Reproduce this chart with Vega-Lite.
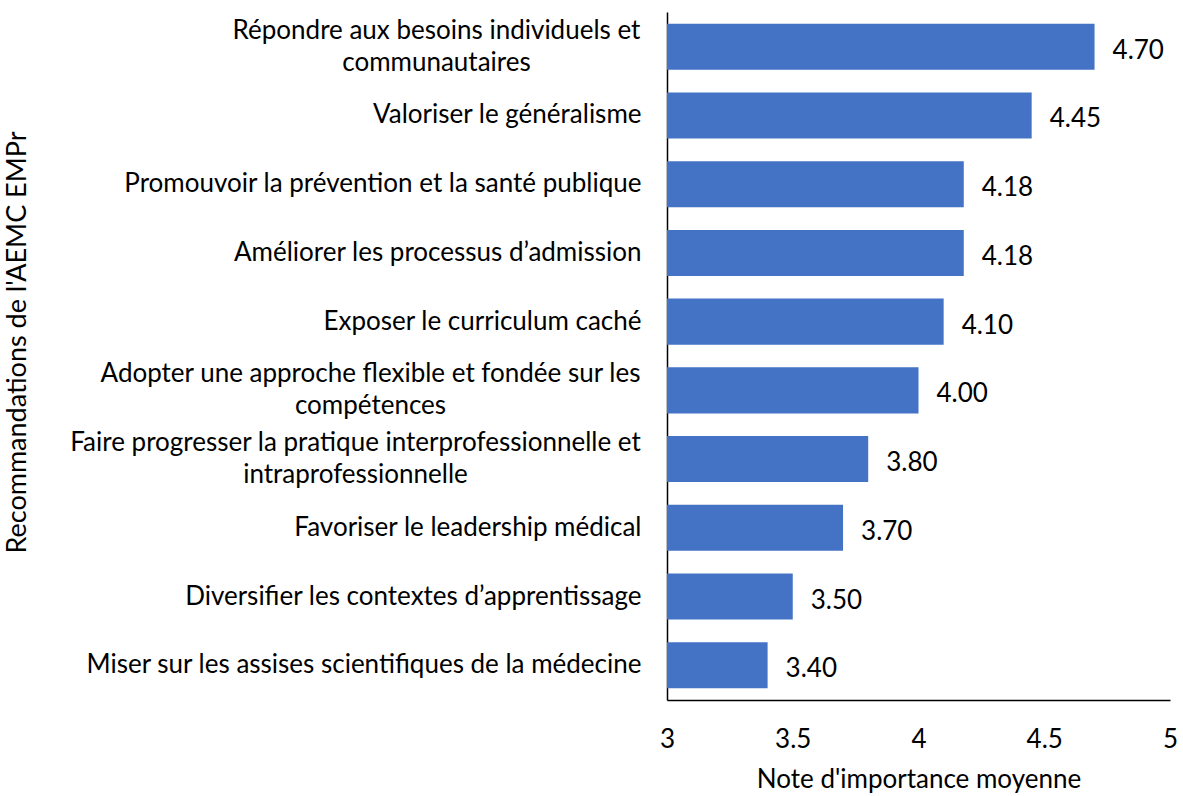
{
  "$schema": "https://vega.github.io/schema/vega-lite/v6.json",
  "width": 503,
  "height": 688,
  "autosize": {"type": "none"},
  "padding": {"left": 667, "top": 12, "right": 13, "bottom": 96},
  "background": "white",
  "config": {
    "view": {"stroke": null},
    "font": "Lato",
    "text": {"font": "Lato"}
  },
  "data": {
    "values": [
      {"rec": "Répondre aux besoins individuels et|communautaires", "note": 4.70, "ordre": 1},
      {"rec": "Valoriser le généralisme", "note": 4.45, "ordre": 2},
      {"rec": "Promouvoir la prévention et la santé publique", "note": 4.18, "ordre": 3},
      {"rec": "Améliorer les processus d’admission", "note": 4.18, "ordre": 4},
      {"rec": "Exposer le curriculum caché", "note": 4.10, "ordre": 5},
      {"rec": "Adopter une approche flexible et fondée sur les|compétences", "note": 4.00, "ordre": 6},
      {"rec": "Faire progresser la pratique interprofessionnelle et|intraprofessionnelle", "note": 3.80, "ordre": 7},
      {"rec": "Favoriser le leadership médical", "note": 3.70, "ordre": 8},
      {"rec": "Diversifier les contextes d’apprentissage", "note": 3.50, "ordre": 9},
      {"rec": "Miser sur les assises scientifiques de la médecine", "note": 3.40, "ordre": 10}
    ]
  },
  "encoding": {
    "y": {
      "field": "rec",
      "type": "nominal",
      "sort": {"field": "ordre", "op": "min", "order": "ascending"},
      "scale": {"paddingInner": 0.33, "paddingOuter": 0.17},
      "axis": {
        "title": "Recommandations de l'AEMC EMPr",
        "titleFont": "Lato",
        "titleFontSize": 27,
        "titleFontWeight": "normal",
        "titleColor": "#000000",
        "titleX": -636,
        "titleY": 330,
        "labelExpr": "split(datum.label, '|')",
        "labelFont": "Lato",
        "labelFontSize": 26,
        "labelColor": "#000000",
        "labelLineHeight": 32,
        "labelLimit": 700,
        "labelAlign": {"condition": {"test": "indexof(datum.value, '|') >= 0", "value": "center"}, "value": "right"},
        "labelOffset": {"condition": {"test": "indexof(datum.value, '|') >= 0", "value": -16}, "value": 0},
        "labelPadding": {
          "condition": [
            {"test": "indexof(datum.value, 'Répondre') == 0", "value": 231},
            {"test": "indexof(datum.value, 'Adopter') == 0", "value": 297},
            {"test": "indexof(datum.value, 'Faire') == 0", "value": 312}
          ],
          "value": 26
        },
        "ticks": false,
        "domainColor": "#000000",
        "domainWidth": 1.5
      }
    },
    "x": {
      "field": "note",
      "type": "quantitative",
      "scale": {"domain": [3, 5], "zero": false, "nice": false},
      "axis": {
        "title": "Note d'importance moyenne",
        "titleFont": "Lato",
        "titleFontSize": 26,
        "titleFontWeight": "normal",
        "titleColor": "#000000",
        "titlePadding": 14,
        "values": [3, 3.5, 4, 4.5, 5],
        "format": "~g",
        "labelFont": "Lato",
        "labelFontSize": 26,
        "labelColor": "#000000",
        "labelPadding": 26,
        "labelFlush": false,
        "ticks": false,
        "grid": false,
        "domainColor": "#000000",
        "domainWidth": 1.5
      }
    }
  },
  "layer": [
    {"mark": {"type": "bar", "color": "#4472C4", "clip": true}},
    {
      "mark": {"type": "text", "align": "left", "dx": 18, "dy": 4, "fontSize": 26, "color": "#000000", "font": "Lato"},
      "encoding": {"text": {"field": "note", "type": "quantitative", "format": ".2f"}}
    }
  ]
}
